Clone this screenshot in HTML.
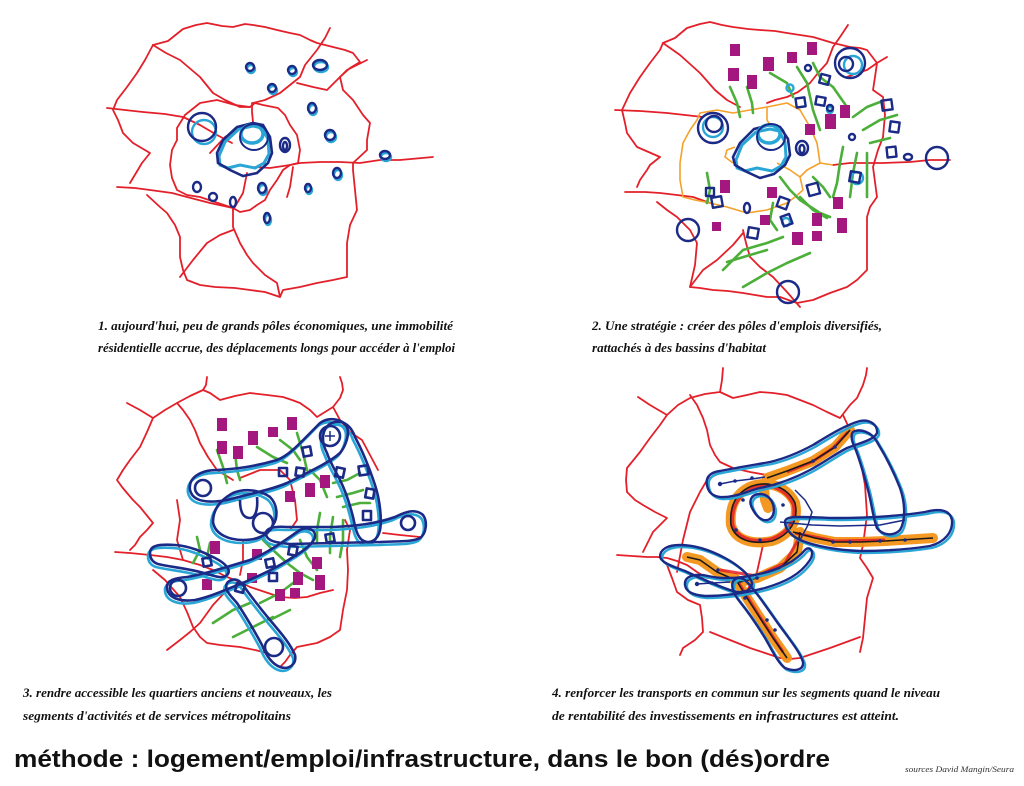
<!DOCTYPE html>
<html><head><meta charset="utf-8"><style>
html,body{margin:0;padding:0;background:#fff;}
svg{display:block;}
</style></head><body>
<svg width="1024" height="786" viewBox="0 0 1024 786" xmlns="http://www.w3.org/2000/svg">
<rect width="1024" height="786" fill="#fff"/>

<!-- ============ Q1 ============ -->
<g fill="none" stroke="#e3202a" stroke-width="1.8" stroke-linejoin="round" stroke-linecap="round">
<polyline points="153,45 168,41 183,29 196,25 207,23 222,26 233,27 245,24 253,25 265,27 277,30 290,33 300,35 310,40 317,43 333,47 345,50 353,53 360,62 350,68 340,77"/>
<polyline points="330,28 325,38 317,50 305,65 300,77 290,85 280,93 265,100 253,103"/>
<polyline points="297,83 313,87 327,90 340,77"/>
<polyline points="367,60 347,70 340,77 343,90 353,100 363,115 370,123 367,140 367,150 353,163"/>
<polyline points="153,45 166,53 180,60 200,77 213,93 225,100 240,107 250,107"/>
<polyline points="153,45 145,60 137,73 127,87 117,100 113,110 118,120 123,133 133,143 150,153 142,163 130,183"/>
<polyline points="107,108 125,110 143,112 165,114 183,117 200,125 217,135 232,143"/>
<polyline points="177,128 185,115 200,103 217,100 235,105 250,107 255,103 263,105 278,108 285,115 290,125 297,135 300,150 298,163 290,165 283,170 277,180 270,190 265,200 257,205 250,210 240,212 233,208 215,202 200,197 187,195 177,190 172,178 170,165 172,150 177,140 177,128"/>
<polyline points="117,187 135,188 150,190 172,193 187,197 210,203 233,208"/>
<polyline points="255,167 270,168 290,165 300,163 320,162 340,162 360,163 380,160 400,160 433,157"/>
<polyline points="147,195 160,207 167,213 175,225 180,237 180,257 183,270 187,280 200,285 215,287 235,288 250,290 265,292 280,297 283,290 300,287 317,283 333,280 347,277 347,260 347,243 350,225 357,210 355,190 353,170 353,163"/>
<polyline points="233,208 233,218 233,227 240,243 247,255 253,263 265,275 277,283 280,297"/>
<polyline points="180,277 193,260 207,243 220,235 233,230"/>
<polyline points="210,153 225,137 240,128"/>
<polyline points="252,103 252,112 253,122"/>
<polyline points="247,173 243,193 233,210"/>
<polyline points="293,167 290,187 287,197"/>
</g>
<g fill="none" stroke-width="2.4">
<g stroke="#2aa6d6" transform="translate(1,2)">
<ellipse cx="250" cy="67" rx="4" ry="4"/><ellipse cx="292" cy="70" rx="4" ry="4"/><ellipse cx="272" cy="88" rx="4" ry="4"/>
<ellipse cx="320" cy="65" rx="7" ry="5"/><ellipse cx="312" cy="108" rx="4" ry="5"/><ellipse cx="330" cy="135" rx="5" ry="5"/>
<ellipse cx="385" cy="155" rx="5" ry="4"/><ellipse cx="337" cy="173" rx="4" ry="5"/><ellipse cx="308" cy="188" rx="3" ry="4"/>
<ellipse cx="262" cy="188" rx="4" ry="5"/><ellipse cx="267" cy="218" rx="3" ry="5"/>
<circle cx="203" cy="130" r="12"/>
</g>
<g stroke="#1b2a86">
<ellipse cx="250" cy="67" rx="4" ry="4"/><ellipse cx="292" cy="70" rx="4" ry="4"/><ellipse cx="272" cy="88" rx="4" ry="4"/>
<ellipse cx="320" cy="65" rx="7" ry="5"/><ellipse cx="312" cy="108" rx="4" ry="5"/><ellipse cx="330" cy="135" rx="5" ry="5"/>
<ellipse cx="385" cy="155" rx="5" ry="4"/><ellipse cx="337" cy="173" rx="4" ry="5"/><ellipse cx="308" cy="188" rx="3" ry="4"/>
<ellipse cx="285" cy="145" rx="5" ry="7"/><ellipse cx="285" cy="146" rx="2" ry="4"/>
<ellipse cx="262" cy="188" rx="4" ry="5"/><ellipse cx="267" cy="218" rx="3" ry="5"/>
<ellipse cx="233" cy="202" rx="3" ry="5"/><ellipse cx="213" cy="197" rx="4" ry="4"/><ellipse cx="197" cy="187" rx="4" ry="5"/>
<circle cx="202" cy="127" r="14"/>
</g>
<path d="M219,156 L225,142 239,129 253,126 262,128 268,139 269,154 264,163 255,168 240,165 228,168 220,165 Z" stroke="#2aa6d6" stroke-width="3"/>
<path d="M217,153 L223,140 237,127 253,123 263,125 270,137 272,153 268,163 257,173 243,176 230,170 218,163 Z" stroke="#1b2a86" stroke-width="2.6"/>
<ellipse cx="252" cy="134" rx="11" ry="9" stroke="#2aa6d6" stroke-width="3.5"/>
<ellipse cx="254" cy="137" rx="14" ry="13" stroke="#1b2a86" stroke-width="2"/>
</g>

<!-- ============ Q2 ============ -->
<g fill="none" stroke="#e3202a" stroke-width="1.8" stroke-linejoin="round" stroke-linecap="round">
<polyline points="663,43 675,38 687,28 700,24 710,22 722,25 733,27 748,29 760,30 775,31 787,33 800,35 813,37 823,40 833,43 850,47 860,48 867,50 877,63"/>
<polyline points="848,25 840,37 833,47 827,63 818,73 810,83 798,92 787,97 775,100 767,103"/>
<polyline points="887,57 877,63 867,70 857,73 847,77"/>
<polyline points="663,43 660,50 650,63 640,77 630,93 622,110 625,123 627,133 637,147 660,157 650,165 647,170 640,180 637,187"/>
<polyline points="663,43 680,55 700,73 715,90 727,100 740,107"/>
<polyline points="615,110 640,111 667,113 685,115 703,117"/>
<polyline points="625,192 645,192 660,193 677,195 693,197 710,203"/>
<polyline points="833,165 850,163 870,163 883,163 910,162 930,160 950,160"/>
<polyline points="877,63 875,77 873,90 883,97 885,115 883,137 878,150 873,167 875,182 877,197 870,207 867,217 867,240 867,270 857,280 847,287 830,293 813,300 797,303 780,297"/>
<polyline points="657,202 667,210 677,217 690,230 697,243 695,265 690,287 700,288 713,290 728,291 743,293 755,295 767,297 780,297"/>
<polyline points="743,230 746,243 750,257 760,267 773,277 787,292 800,307"/>
<polyline points="690,287 703,270 717,260 733,245 743,233"/>
</g>
<g fill="none" stroke="#f5a12a" stroke-width="1.6" stroke-linejoin="round">
<polyline points="680,163 683,143 690,130 697,120 700,113 717,110 733,113 750,110 767,107 787,103 800,110 810,127 817,143 820,163 807,170 800,177 803,190 795,197 787,203 767,210 747,213 727,207 710,203 695,200 683,197 680,180 680,163"/>
<polyline points="767,107 767,120 770,125"/>
<polyline points="735,147 727,150 725,157 733,163"/>
<polyline points="777,163 790,170 800,177"/>
<polyline points="820,163 833,165"/>
</g>
<g fill="none" stroke="#4caf3a" stroke-width="2.6" stroke-linecap="round" stroke-linejoin="round">
<polyline points="730,87 737,103 740,117"/>
<polyline points="747,87 752,103 753,113"/>
<polyline points="770,73 787,83 793,97"/>
<polyline points="797,67 807,83 813,110 820,130"/>
<polyline points="813,63 820,77 833,87 847,107"/>
<polyline points="853,117 867,107 880,102"/>
<polyline points="863,130 880,120 897,115"/>
<polyline points="870,143 890,138"/>
<polyline points="843,147 840,163 837,183 833,197"/>
<polyline points="857,153 853,173 850,197"/>
<polyline points="867,153 867,177 867,197"/>
<polyline points="707,173 710,190 707,203"/>
<polyline points="780,177 790,190 800,200 820,213 830,217"/>
<polyline points="800,197 813,210 827,218"/>
<polyline points="773,203 770,220 777,230"/>
<polyline points="813,177 823,187 830,197"/>
<polyline points="723,270 743,250 767,243 783,237"/>
<polyline points="743,287 767,273 787,263 810,253"/>
<polyline points="727,262 750,255 767,250"/>
</g>
<g fill="#a3177f">
<rect x="730" y="44" width="10" height="12"/><rect x="807" y="42" width="10" height="13"/><rect x="787" y="52" width="10" height="11"/>
<rect x="763" y="57" width="11" height="14"/><rect x="728" y="68" width="11" height="13"/><rect x="747" y="75" width="10" height="14"/>
<rect x="840" y="105" width="10" height="13"/><rect x="825" y="114" width="11" height="15"/><rect x="805" y="124" width="10" height="11"/>
<rect x="720" y="180" width="10" height="13"/><rect x="767" y="187" width="10" height="11"/><rect x="833" y="197" width="10" height="12"/>
<rect x="812" y="213" width="10" height="13"/><rect x="837" y="218" width="10" height="15"/><rect x="760" y="215" width="10" height="10"/>
<rect x="792" y="232" width="11" height="13"/><rect x="812" y="231" width="10" height="10"/><rect x="712" y="222" width="9" height="9"/>
</g>
<g fill="none" stroke-width="2.4" stroke-linejoin="round">
<g stroke="#2aa6d6">
<circle cx="790" cy="88" r="3.5"/><circle cx="713" cy="127" r="10"/><circle cx="853" cy="65" r="9"/>
<circle cx="786" cy="222" r="4"/><circle cx="857" cy="178" r="6"/><circle cx="830" cy="110" r="3"/>
</g>
<g stroke="#1b2a86">
<rect x="796" y="98" width="9" height="9" transform="rotate(-8 800 102)"/>
<rect x="816" y="97" width="9" height="8" transform="rotate(10 820 101)"/>
<circle cx="830" cy="108" r="3"/>
<rect x="820" y="75" width="9" height="9" transform="rotate(15 825 80)"/>
<circle cx="808" cy="68" r="3"/>
<rect x="882" y="100" width="10" height="10" transform="rotate(-8 887 105)"/>
<rect x="890" y="122" width="9" height="10" transform="rotate(8 895 127)"/>
<rect x="887" y="147" width="9" height="10" transform="rotate(-6 892 152)"/>
<ellipse cx="908" cy="157" rx="4" ry="3"/>
<circle cx="937" cy="158" r="11"/>
<circle cx="852" cy="137" r="3"/>
<rect x="850" y="172" width="10" height="10" transform="rotate(10 855 177)"/>
<rect x="808" y="184" width="11" height="11" transform="rotate(-15 813 190)"/>
<rect x="778" y="198" width="10" height="10" transform="rotate(20 783 203)"/>
<rect x="782" y="215" width="9" height="10" transform="rotate(-20 787 220)"/>
<rect x="748" y="228" width="10" height="10" transform="rotate(10 753 233)"/>
<ellipse cx="747" cy="208" rx="3" ry="5"/>
<rect x="712" y="197" width="10" height="10" transform="rotate(-10 717 202)"/>
<rect x="706" y="188" width="8" height="8"/>
<circle cx="688" cy="230" r="11"/>
<circle cx="788" cy="292" r="11"/>
<circle cx="850" cy="63" r="15"/><circle cx="846" cy="64" r="7"/>
<circle cx="713" cy="128" r="15"/><circle cx="714" cy="124" r="8"/>
<ellipse cx="802" cy="148" rx="6" ry="7"/><ellipse cx="802" cy="149" rx="2.5" ry="4"/>
</g>
<path d="M736,160 L742,145 756,132 770,129 779,131 785,142 786,157 781,166 772,171 757,168 745,171 737,168 Z" stroke="#2aa6d6" stroke-width="3"/>
<path d="M733,157 L740,143 754,129 770,125 780,127 788,139 790,155 785,165 774,174 760,178 747,172 735,165 Z" stroke="#1b2a86" stroke-width="2.6"/>
<ellipse cx="769" cy="134" rx="11" ry="9" stroke="#2aa6d6" stroke-width="3.5"/>
<ellipse cx="771" cy="137" rx="14" ry="13" stroke="#1b2a86" stroke-width="2"/>
</g>

<!-- ============ Q3 ============ -->
<g fill="none" stroke="#e3202a" stroke-width="1.8" stroke-linejoin="round" stroke-linecap="round">
<polyline points="127,403 140,410 153,418 165,410 177,403 190,396 203,390 210,393 220,400 235,396 250,393 267,395 283,397 292,400 300,403 310,410 317,417 325,412 333,407 340,398 343,390 342,383 340,377"/>
<polyline points="207,377 206,385 203,390"/>
<polyline points="153,418 147,432 140,447 130,460 123,470 117,480 122,487 127,493 133,500 140,507 153,523 147,530 140,537 135,545 130,550"/>
<polyline points="177,403 183,410 190,420 195,430 200,443 208,457 217,470 225,475 233,480"/>
<polyline points="115,552 130,553 150,555 167,557 183,560 200,565 213,570 227,577 240,582 250,587 265,592 280,597 295,598 307,597 320,593 333,590"/>
<polyline points="167,650 180,640 190,632 200,623 213,605 227,590"/>
<polyline points="347,550 348,570 347,590 343,610 340,630 330,637 317,643 307,645 297,647 290,655 285,662 280,667"/>
<polyline points="153,570 165,580 180,597 187,612 193,627 200,637 207,643 220,645 240,647 255,650 267,653"/>
<polyline points="333,407 340,420 350,432 362,440 370,455 378,470"/>
<polyline points="383,533 400,535 420,537"/>
<polyline points="177,500 180,520 177,540 183,560"/>
<polyline points="240,478 260,470 280,470 290,480 295,500 297,520 290,530"/>
<polyline points="243,540 243,560 240,575"/>
<polyline points="345,520 350,530 347,550"/>
</g>
<g fill="none" stroke="#4caf3a" stroke-width="2.6" stroke-linecap="round" stroke-linejoin="round">
<polyline points="217,450 223,467 227,483"/>
<polyline points="235,453 237,470 240,480"/>
<polyline points="257,447 273,457 287,463"/>
<polyline points="280,440 293,450 300,460"/>
<polyline points="297,433 303,453 307,470"/>
<polyline points="310,470 320,480 327,497"/>
<polyline points="333,483 347,480 360,473"/>
<polyline points="337,497 353,493 363,490"/>
<polyline points="343,507 360,503 370,503"/>
<polyline points="320,513 317,530 317,543"/>
<polyline points="333,517 330,537 330,553"/>
<polyline points="343,520 343,540 340,557"/>
<polyline points="197,537 200,550 193,563"/>
<polyline points="210,543 207,557"/>
<polyline points="263,540 273,550 287,563"/>
<polyline points="287,563 300,573 313,580"/>
<polyline points="300,540 307,557 317,570"/>
<polyline points="213,623 233,610 250,603"/>
<polyline points="233,637 253,627 273,617"/>
<polyline points="260,603 280,593 293,583"/>
<polyline points="270,620 290,610"/>
</g>
<g fill="#a3177f">
<rect x="217" y="418" width="10" height="13"/><rect x="287" y="417" width="10" height="13"/><rect x="268" y="427" width="10" height="10"/>
<rect x="248" y="431" width="10" height="14"/><rect x="217" y="441" width="10" height="13"/><rect x="233" y="446" width="10" height="13"/>
<rect x="320" y="475" width="10" height="13"/><rect x="305" y="483" width="10" height="14"/><rect x="285" y="491" width="10" height="11"/>
<rect x="210" y="541" width="10" height="13"/><rect x="252" y="549" width="10" height="11"/><rect x="312" y="557" width="10" height="12"/>
<rect x="293" y="572" width="10" height="13"/><rect x="315" y="575" width="10" height="15"/><rect x="247" y="573" width="10" height="10"/>
<rect x="202" y="579" width="10" height="11"/><rect x="275" y="589" width="10" height="12"/><rect x="290" y="588" width="10" height="10"/>
</g>
<defs>
<path id="c3a" d="M190,490 C188,478 200,470 217,470 C235,469 253,467 277,460 C290,455 300,443 320,423 C328,417 342,418 347,427 C350,435 345,447 340,453 C330,462 313,470 287,483 C270,490 253,493 227,500 C210,503 193,503 190,490 Z"/>
<path id="c3b" d="M327,453 C320,440 322,425 335,422 C345,420 352,428 355,437 C362,450 370,470 375,485 C380,500 382,520 380,530 C378,540 370,545 362,540 C356,535 355,525 353,517 C350,505 345,490 340,480 C335,470 330,462 327,453 Z"/>
<path id="c3c" d="M267,537 C262,528 275,526 287,527 L333,527 C355,526 375,524 395,517 C405,512 415,508 423,515 C428,522 426,534 420,538 C412,542 400,541 380,542 L333,543 L290,544 C280,543 270,542 267,537 Z"/>
<path id="c3d" d="M213,522 C213,510 220,500 233,493 C245,488 260,490 270,497 C278,505 278,518 273,525 C268,535 258,540 243,540 C230,540 215,535 213,522 Z"/>
<path id="c3e" d="M150,553 C150,545 160,544 175,545 C190,546 203,552 215,558 C225,563 232,570 227,575 C222,580 212,575 200,572 C185,568 170,567 158,564 C152,562 150,558 150,553 Z"/>
<path id="c3f" d="M167,588 C166,580 175,578 187,577 C200,575 217,570 250,560 C268,553 285,540 300,530 C308,526 316,530 315,537 C313,545 300,553 293,557 C280,566 265,573 245,582 C225,590 210,597 195,600 C180,602 168,598 167,588 Z"/>
<path id="c3g" d="M227,583 C232,578 238,578 243,585 C250,595 260,608 270,620 C280,632 290,643 295,655 C297,665 288,670 280,667 C272,664 266,655 262,645 C255,632 245,615 237,603 C230,595 224,590 227,583 Z"/>
</defs>
<g fill="none" stroke-width="2.6" stroke-linejoin="round">
<g stroke="#2aa6d6" transform="translate(-2,3)">
<use href="#c3a"/><use href="#c3b"/><use href="#c3c"/><use href="#c3d"/><use href="#c3e"/><use href="#c3f"/><use href="#c3g"/>
</g>
<g stroke="#1b2a86">
<use href="#c3a"/><use href="#c3b"/><use href="#c3c"/><use href="#c3d"/><use href="#c3e"/><use href="#c3f"/><use href="#c3g"/>
<circle cx="203" cy="488" r="8"/>
<path d="M240,500 C240,512 243,518 250,518 C256,518 258,508 257,497"/>
<circle cx="263" cy="523" r="10"/>
<circle cx="178" cy="588" r="8"/>
<circle cx="408" cy="523" r="7"/>
<circle cx="274" cy="647" r="9"/>
<circle cx="330" cy="436" r="10"/>
<path d="M325,436 L335,436 M330,431 L330,441" stroke-width="1.5"/>
<rect x="303" y="447" width="8" height="9" transform="rotate(-10 307 452)"/>
<rect x="279" y="468" width="8" height="8"/>
<rect x="296" y="468" width="8" height="8" transform="rotate(8 300 472)"/>
<rect x="336" y="468" width="8" height="9" transform="rotate(12 340 472)"/>
<rect x="359" y="466" width="9" height="9" transform="rotate(-8 363 470)"/>
<rect x="366" y="489" width="8" height="9" transform="rotate(10 370 493)"/>
<rect x="363" y="511" width="8" height="9"/>
<rect x="326" y="534" width="8" height="8" transform="rotate(-10 330 538)"/>
<rect x="289" y="546" width="8" height="9" transform="rotate(10 293 550)"/>
<rect x="266" y="559" width="8" height="8" transform="rotate(-12 270 563)"/>
<rect x="269" y="573" width="8" height="8"/>
<rect x="236" y="584" width="8" height="8" transform="rotate(15 240 588)"/>
<rect x="203" y="558" width="8" height="8" transform="rotate(-10 207 562)"/>
</g>
</g>

<!-- ============ Q4 ============ -->
<g fill="none" stroke="#e3202a" stroke-width="1.8" stroke-linejoin="round" stroke-linecap="round">
<polyline points="638,397 650,405 667,415 678,405 690,398 705,394 720,392 722,380 723,368"/>
<polyline points="720,392 733,398 747,395 760,392 773,393 787,395 800,400 813,405 827,412 840,418 850,405 857,398 863,385 866,375 867,368"/>
<polyline points="667,415 660,425 650,438 640,452 627,468 626,480 627,492 635,500 643,505 655,512 667,518 660,525 653,532 648,542 643,552"/>
<polyline points="690,395 697,405 703,418 707,430 710,445 715,455 720,462 733,468 750,472 767,475"/>
<polyline points="617,555 632,556 647,557 657,557 667,558 677,561 687,565 697,572 707,578"/>
<polyline points="667,565 672,578 677,592 688,600 700,605 702,618 703,632 695,640 683,648 680,655"/>
<polyline points="710,632 730,640 750,648 765,653 780,658 790,659 800,658 830,648 860,637"/>
<polyline points="843,415 850,430 860,458 865,485 867,515 865,530 863,545 860,558 867,568 873,578 870,588 867,598 865,618 863,638 860,652"/>
<polyline points="677,572 683,540 690,512 700,492 710,475"/>
<polyline points="763,545 757,572 743,598"/>
</g>
<g fill="none" stroke="#f39418" stroke-width="10" stroke-linecap="round" stroke-linejoin="round" opacity="0.95">
<polyline points="850,430 835,447 813,461 787,471 767,478"/>
<path d="M731,525 C729,505 737,492 752,486 C770,480 788,488 795,503 C799,520 790,535 772,541 C752,545 735,540 731,525 Z"/>
<polyline points="764,488 765,500 768,508"/>
<polyline points="793,532 815,538 835,542 860,542 885,541 933,538"/>
<polyline points="800,532 797,552 780,568 757,578 740,582 717,572 700,560 687,557"/>
<polyline points="735,578 747,598 760,618 773,638 787,658"/>
</g>
<g fill="none" stroke="#e3202a" stroke-width="3" stroke-linejoin="round" opacity="0.85">
<path d="M733,525 C731,507 739,494 753,488 C770,482 786,490 793,504 C797,520 788,533 771,539 C753,543 737,538 733,525 Z"/>
<polyline points="848,432 833,448 812,462 787,472"/>
<polyline points="795,533 835,541 885,540"/>
<polyline points="798,540 785,563 757,576 720,570"/>
<polyline points="737,580 760,617 783,652"/>
</g>
<g fill="none" stroke="#1a1a1a" stroke-width="1.6" stroke-linejoin="round">
<polyline points="850,430 835,447 813,461 787,471 767,478"/>
<path d="M731,525 C729,505 737,492 752,486 C770,480 788,488 795,503 C799,520 790,535 772,541 C752,545 735,540 731,525 Z"/>
<polyline points="793,532 815,538 835,542 860,542 885,541 933,538"/>
<polyline points="800,532 797,552 780,568 757,578 740,582 717,572 700,560 687,557"/>
<polyline points="735,578 747,598 760,618 773,638 787,658"/>
</g>
<defs>
<path id="c4a" d="M707,485 C705,476 712,472 720,471 C735,468 753,465 770,462 C787,458 800,452 813,445 C828,436 845,425 860,421 C870,419 878,425 877,433 C874,440 860,443 847,448 C835,454 825,462 810,470 C795,478 780,484 760,488 C745,492 733,498 720,497 C712,496 708,492 707,485 Z"/>
<path id="c4b" d="M853,432 C860,428 872,432 877,442 C885,455 893,470 900,488 C906,505 905,522 900,530 C893,537 882,535 877,528 C873,518 872,505 868,490 C864,475 860,460 855,448 C852,442 850,436 853,432 Z"/>
<path id="c4c" d="M785,522 C785,515 800,517 833,518 C865,518 900,516 925,512 C940,508 950,510 952,520 C953,532 945,542 930,546 C905,550 880,551 860,551 C835,550 815,546 800,540 C790,535 785,528 785,522 Z"/>
<path id="c4d" d="M660,557 C660,549 668,545 680,545 C695,545 710,550 725,558 C738,565 750,575 752,583 C752,592 740,594 730,590 C715,585 700,578 685,571 C672,566 662,563 660,557 Z"/>
<path id="c4e" d="M685,585 C684,576 695,573 708,576 C725,580 745,578 767,572 C780,568 795,562 805,550 C810,545 815,552 810,560 C800,575 785,582 765,588 C745,593 725,596 705,596 C693,595 686,592 685,585 Z"/>
<path id="c4f" d="M733,590 C730,580 737,575 745,580 C755,590 765,605 777,622 C790,640 800,652 803,662 C804,670 795,672 785,668 C778,663 772,650 765,638 C757,625 748,612 740,602 C736,597 734,594 733,590 Z"/>
<path id="c4g" d="M752,508 C748,500 752,494 760,494 C770,494 776,505 773,515 C770,522 760,524 752,508 Z"/>
</defs>
<g fill="none" stroke-width="2.4" stroke-linejoin="round">
<g stroke="#2aa6d6" transform="translate(2,2)">
<use href="#c4a"/><use href="#c4b"/><use href="#c4c"/><use href="#c4d"/><use href="#c4e"/><use href="#c4f"/><use href="#c4g"/>
</g>
<g stroke="#1b2a86">
<use href="#c4a"/><use href="#c4b"/><use href="#c4c"/><use href="#c4d"/><use href="#c4e"/><use href="#c4f"/><use href="#c4g"/>
<polyline points="720,484 735,481 752,479 765,477" stroke-width="1.5"/>
<polyline points="697,584 712,583 730,582" stroke-width="1.5"/>
<polyline points="780,522 812,525 840,526 880,525 905,520" stroke-width="1.5"/>
<polyline points="795,490 805,500 812,512 808,525 800,540" stroke-width="1.5"/>
</g>
</g>
<g fill="#1b2a86">
<circle cx="720" cy="484" r="2.2"/><circle cx="735" cy="481" r="1.8"/><circle cx="752" cy="478" r="1.8"/>
<circle cx="697" cy="584" r="2.2"/><circle cx="712" cy="583" r="1.8"/>
<circle cx="833" cy="542" r="1.8"/><circle cx="850" cy="542" r="1.8"/><circle cx="880" cy="541" r="1.8"/><circle cx="905" cy="540" r="1.8"/>
<circle cx="767" cy="620" r="1.8"/><circle cx="775" cy="630" r="1.8"/><circle cx="813" cy="461" r="1.8"/><circle cx="835" cy="447" r="1.8"/>
<circle cx="783" cy="505" r="1.8"/><circle cx="743" cy="500" r="1.8"/><circle cx="736" cy="530" r="1.8"/><circle cx="760" cy="540" r="1.8"/>
<circle cx="745" cy="598" r="1.8"/><circle cx="757" cy="578" r="1.8"/><circle cx="718" cy="570" r="1.8"/>
</g>

<!-- ============ TEXT ============ -->
<g font-family="'Liberation Serif', serif" font-style="italic" font-weight="bold" font-size="13" fill="#111">
<text x="98" y="330" textLength="355" lengthAdjust="spacingAndGlyphs">1. aujourd'hui, peu de grands pôles économiques, une immobilité</text>
<text x="98" y="352" textLength="357" lengthAdjust="spacingAndGlyphs">résidentielle accrue, des déplacements longs pour accéder à l'emploi</text>
<text x="592" y="330" textLength="290" lengthAdjust="spacingAndGlyphs">2. Une stratégie : créer des pôles d'emplois diversifiés,</text>
<text x="592" y="352" textLength="174" lengthAdjust="spacingAndGlyphs">rattachés à des bassins d'habitat</text>
<text x="23" y="697" textLength="309" lengthAdjust="spacingAndGlyphs">3. rendre accessible les quartiers anciens et nouveaux, les</text>
<text x="23" y="720" textLength="268" lengthAdjust="spacingAndGlyphs">segments d'activités et de services métropolitains</text>
<text x="552" y="697" textLength="388" lengthAdjust="spacingAndGlyphs">4. renforcer les transports en commun sur les segments quand le niveau</text>
<text x="552" y="720" textLength="347" lengthAdjust="spacingAndGlyphs">de rentabilité des investissements en infrastructures est atteint.</text>
</g>
<text x="14" y="767" font-family="'Liberation Sans', sans-serif" font-weight="bold" font-size="24" fill="#111" textLength="816" lengthAdjust="spacingAndGlyphs">méthode : logement/emploi/infrastructure, dans le bon (dés)ordre</text>
<text x="905" y="772" font-family="'Liberation Serif', serif" font-style="italic" font-size="8.5" fill="#333" textLength="109" lengthAdjust="spacingAndGlyphs">sources David Mangin/Seura</text>
</svg>
</body></html>
